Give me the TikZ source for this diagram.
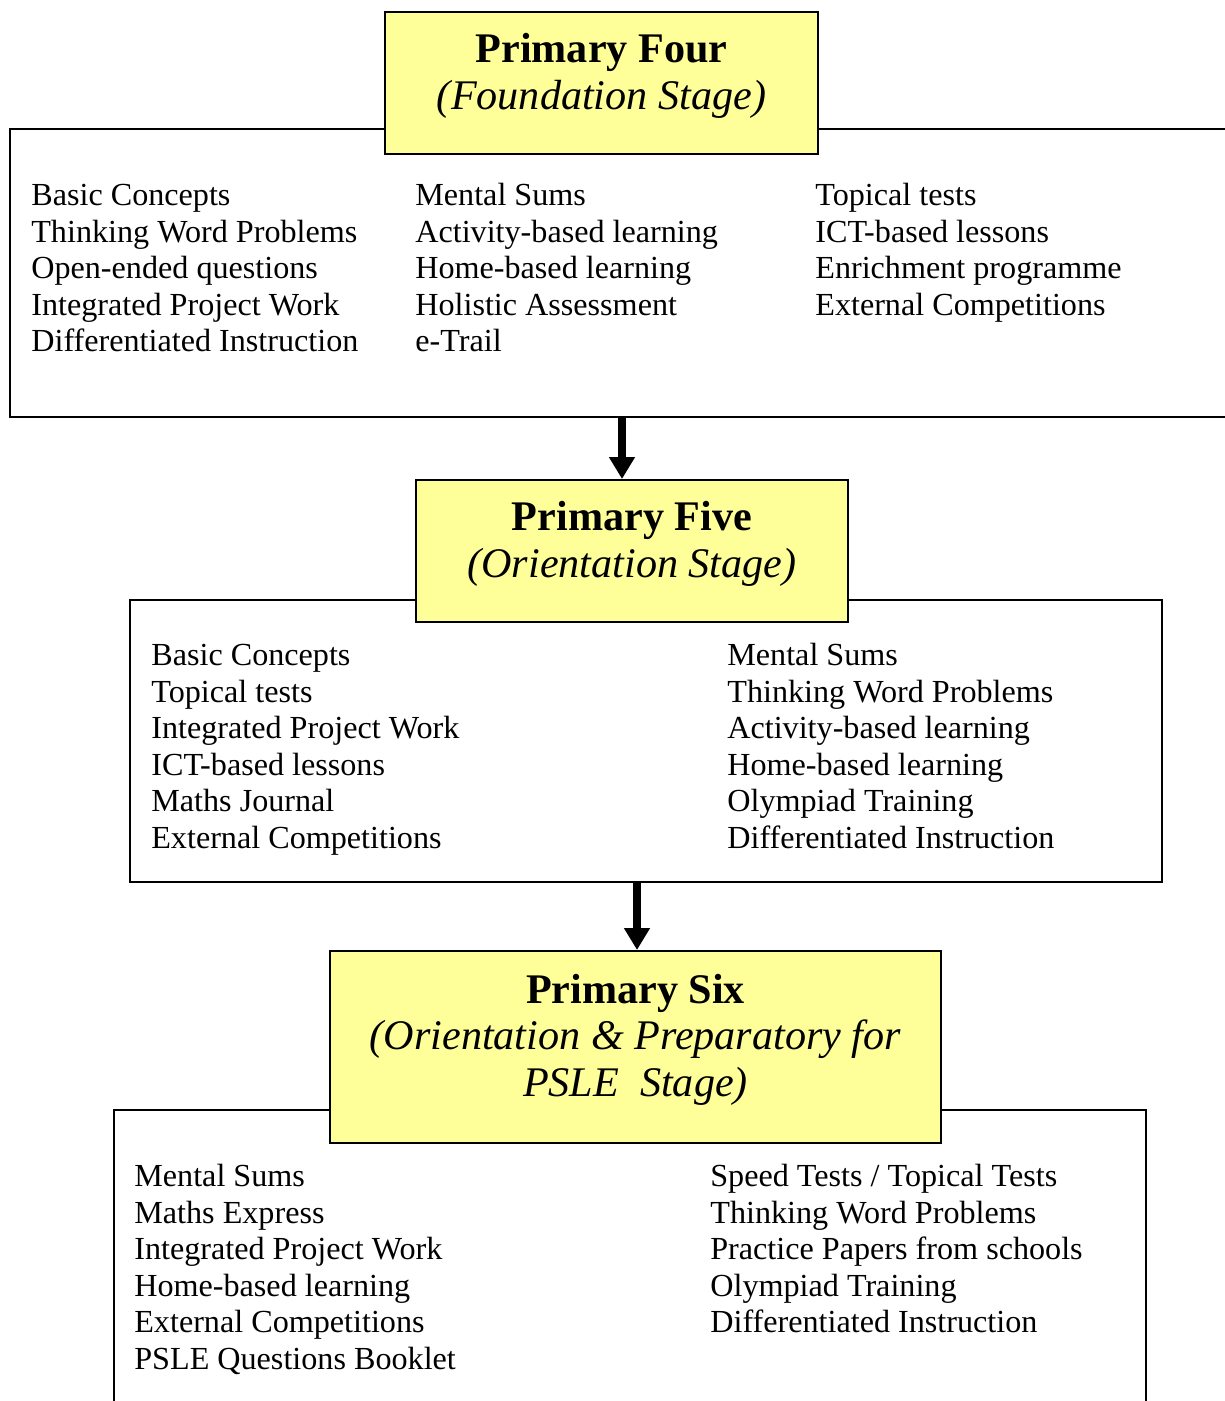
\documentclass[tikz,border=0pt]{standalone}
\usepackage{fontspec}
\setmainfont{Liberation Serif}
\usetikzlibrary{arrows.meta}
\definecolor{paleyellow}{RGB}{255,255,153}

\tikzset{
  stage/.style={draw,line width=1.1pt,fill=paleyellow,align=center,inner sep=0pt,text depth=13.3pt,font=\fontsize{24}{26.6}\selectfont},
  group/.style={draw,line width=1.1pt,inner sep=0pt},
  items/.style={anchor=base west,align=left,inner sep=0pt,font=\fontsize{18.3}{20.8}\selectfont},
  flow/.style={-{Triangle[width=14pt,length=12.5pt]},line width=4pt},
}

\begin{document}
\begin{tikzpicture}[x=0.02cm,y=-0.02cm]

\clip (0,0) rectangle (1225,1401);

\node[group,minimum width=1230*0.02cm,minimum height=288*0.02cm] (grp1) at (625,273) {};
\node[group,minimum width=1032*0.02cm,minimum height=282*0.02cm] (grp2) at (646,741) {};
\node[group,minimum width=1032*0.02cm,minimum height=330*0.02cm] (grp3) at (630,1275) {};

\node[stage,minimum width=433*0.02cm,minimum height=142*0.02cm] (ttl1) at (601.5,83) {\textbf{Primary Four}\\\textit{(Foundation Stage)}};
\node[stage,minimum width=432*0.02cm,minimum height=142*0.02cm] (ttl2) at (632,551) {\textbf{Primary Five}\\\textit{(Orientation Stage)}};
\node[stage,minimum width=611*0.02cm,minimum height=192*0.02cm] (ttl3) at (635.5,1047) {\textbf{Primary Six}\\\textit{(Orientation \& Preparatory for}\\\textit{PSLE\ \ Stage)}};

\node[items] (p4a) at (31,351.8) {Basic Concepts\\Thinking Word Problems\\Open-ended questions\\Integrated Project Work\\Differentiated Instruction};
\node[items] (p4b) at (415,351.8) {Mental Sums\\Activity-based learning\\Home-based learning\\Holistic Assessment\\e-Trail};
\node[items] (p4c) at (815,315.1) {Topical tests\\ICT-based lessons\\Enrichment programme\\External Competitions};

\node[items] (p5a) at (151,848.5) {Basic Concepts\\Topical tests\\Integrated Project Work\\ICT-based lessons\\Maths Journal\\External Competitions};
\node[items] (p5b) at (727,848.5) {Mental Sums\\Thinking Word Problems\\Activity-based learning\\Home-based learning\\Olympiad Training\\Differentiated Instruction};

\node[items] (p6a) at (134,1369.5) {Mental Sums\\Maths Express\\Integrated Project Work\\Home-based learning\\External Competitions\\PSLE Questions Booklet};
\node[items] (p6b) at (710,1332.8) {Speed Tests / Topical Tests\\Thinking Word Problems\\Practice Papers from schools\\Olympiad Training\\Differentiated Instruction};

\draw[flow] (grp1.south -| 622,0) -- (ttl2.north -| 622,0);
\draw[flow] (grp2.south -| 637,0) -- (ttl3.north -| 637,0);

\end{tikzpicture}
\end{document}
